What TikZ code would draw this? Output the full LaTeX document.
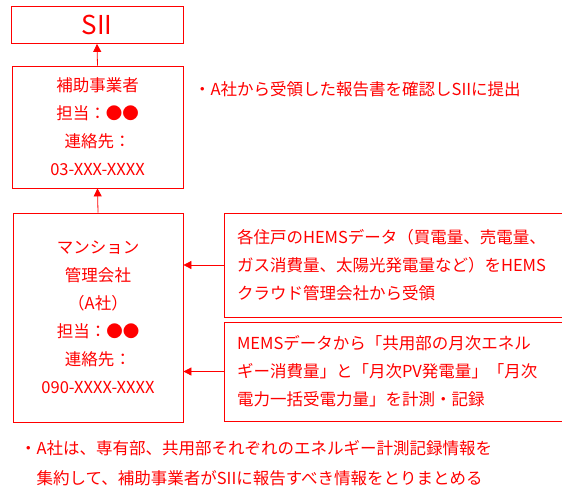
\documentclass[tikz,border=0pt]{standalone}
\usepackage{fontspec}
\setmainfont{Noto Sans CJK JP}
\usetikzlibrary{arrows.meta, positioning}

\begin{document}
\begin{tikzpicture}[
    x=1pt, y=-1pt,
    box/.style={draw=red, line width=0.8pt, rectangle, inner sep=0pt, text=red, font=\fontsize{16.5}{28}\selectfont, align=center},
    note box/.style={box, align=left, inner xsep=13pt},
    note text/.style={text=red, font=\fontsize{16.5}{30}\selectfont, align=left, inner sep=0pt},
    arr/.style={draw=red, line width=0.8pt, -{Triangle[length=8pt, width=8pt]}}
]
\useasboundingbox (0,0) rectangle (562,490);

% Boxes
\node[box, minimum width=172pt, minimum height=37pt, font=\fontsize{26}{30}\selectfont] (SII) at (97, 25) {SII};
\node[box, minimum width=171pt, minimum height=122pt] (Hojo) at (97.5, 127) {補助事業者\\担当：●●\\連絡先：\\03-XXX-XXXX};
\node[box, minimum width=170pt, minimum height=209pt] (Kanri) at (98, 317.5) {マンション\\管理会社\\（A社）\\担当：●●\\連絡先：\\090-XXXX-XXXX};

\node[note box, text width=313pt, minimum height=104pt] (HEMS) at (393.5, 265) {各住戸のHEMSデータ（買電量、売電量、\\ガス消費量、太陽光発電量など）をHEMS\\クラウド管理会社から受領};
\node[note box, text width=313pt, minimum height=99pt] (MEMS) at (393.5, 371.5) {MEMSデータから「共用部の月次エネル\\ギー消費量」と「月次PV発電量」「月次\\電力一括受電力量」を計測・記録};

% Notes
\node[note text, anchor=west] (teishutsu) at (194, 89) {・A社から受領した報告書を確認しSIIに提出};
\node[note text, anchor=north west] (matome) at (20, 440) {・A社は、専有部、共用部それぞれのエネルギー計測記録情報を\\\phantom{・}集約して、補助事業者がSIIに報告すべき情報をとりまとめる};

% Arrows
\draw[arr] (Hojo.north) -- (SII.south);
\draw[arr] (Kanri.north) -- (Hojo.south);
\draw[arr] (HEMS.west) -- (HEMS.west -| Kanri.east);
\draw[arr] (MEMS.west) -- (MEMS.west -| Kanri.east);

\end{tikzpicture}
\end{document}
